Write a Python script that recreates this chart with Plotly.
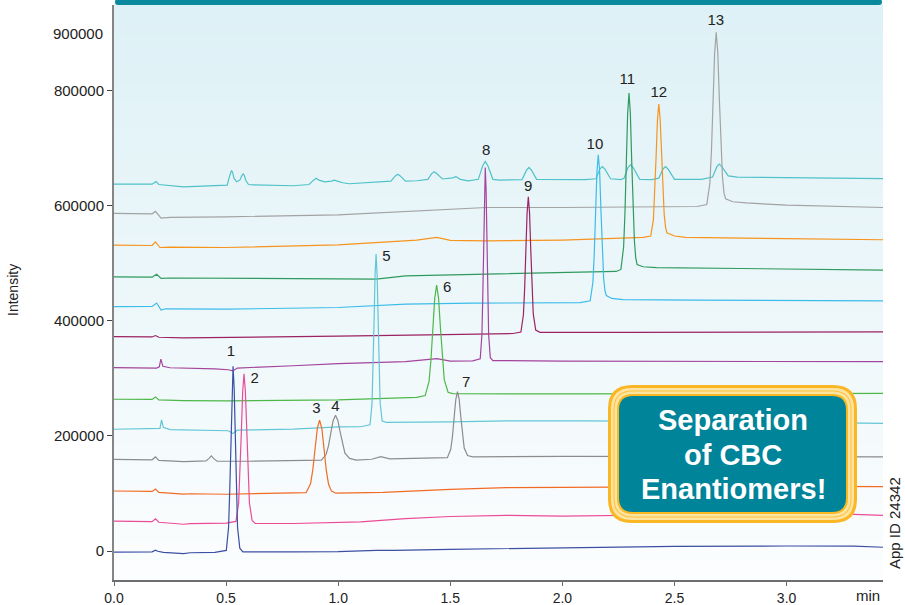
import plotly.graph_objects as go

# Chromatograms (time in min, intensity), one list per trace, bottom trace first
T1 = [0.0, 0.17, 0.185, 0.195, 0.22, 0.31, 0.34, 0.45, 0.501, 0.511, 0.516, 0.521, 0.526, 0.531,
      0.536, 0.541, 0.546, 0.551, 0.561, 0.575, 0.8, 1.0, 1.17, 1.25, 1.5, 2.0, 2.5, 3.0, 3.3, 3.43]
I1 = [-2000, -1500, 1500, -500, -2500, -4500, -3000, -2500, 1100, 41200, 102600, 193900, 282800, 321000,
      282800, 193900, 102600, 41200, 5000, -1500, -1500, -1200, 1200, 1000, 3000, 5700, 8000, 8700, 8500, 6500]

T2 = [0.0, 0.17, 0.185, 0.2, 0.31, 0.34, 0.5, 0.544, 0.556, 0.562, 0.568, 0.574, 0.58, 0.586,
      0.592, 0.598, 0.604, 0.616, 0.63, 0.8, 1.0, 1.1, 1.3, 1.5, 1.75, 2.0, 2.5, 3.0, 3.3, 3.43]
I2 = [52000, 51000, 56000, 50000, 46500, 47500, 48500, 51500, 83700, 132900, 206000, 277200, 307800, 277200,
      206000, 132900, 83700, 53000, 48000, 47800, 49500, 50500, 56200, 60000, 62000, 60500, 63000, 64500, 63500, 62000]

T3 = [0.0, 0.17, 0.185, 0.2, 0.31, 0.34, 0.5, 0.7, 0.8, 0.857, 0.877, 0.887, 0.897, 0.907, 0.917,
      0.927, 0.937, 0.947, 0.957, 0.97, 0.99, 1.2, 1.5, 1.75, 2.0, 2.5, 3.0, 3.43]
I3 = [104300, 103500, 107800, 102000, 99000, 99500, 98600, 99500, 100000, 101400, 117400, 141800, 178100, 213500, 227300,
      213000, 177000, 140000, 116000, 104000, 100500, 102000, 107000, 110000, 110500, 111500, 112500, 112000]

T4 = [0.0, 0.17, 0.185, 0.2, 0.31, 0.41, 0.424, 0.434, 0.444, 0.46, 0.6, 0.88, 0.925, 0.946, 0.9565, 0.967,
      0.9775, 0.988, 0.9985, 1.009, 1.0195, 1.03, 1.051, 1.08, 1.15, 1.19, 1.23, 1.35, 1.45, 1.487, 1.502,
      1.5095, 1.517, 1.5245, 1.532, 1.5395, 1.547, 1.5545, 1.562, 1.577, 1.6, 2.0, 2.5, 3.0, 3.43]
I4 = [159400, 158500, 163500, 157500, 155500, 156500, 161000, 165200, 161000, 156000, 156000, 157000, 158000, 167700, 182700, 205000,
      226700, 236000, 227000, 206000, 185000, 170000, 161000, 158000, 159500, 164000, 160000, 160500, 161000, 162300, 176700,
      198700, 231400, 263300, 277000, 264000, 233000, 201000, 179000, 166000, 163500, 164500, 164500, 164000, 163500]

T5 = [0.0, 0.19, 0.205, 0.212, 0.22, 0.25, 0.4, 0.51, 0.53, 0.55, 0.8, 1.0, 1.1, 1.142, 1.151, 1.1555, 1.16,
      1.1645, 1.169, 1.1735, 1.178, 1.1825, 1.187, 1.196, 1.215, 1.5, 1.75, 2.1, 2.6, 3.0, 3.43]
I5 = [211600, 212000, 213000, 227800, 215000, 211000, 210500, 209000, 204000, 210000, 212000, 215600, 216000, 219300, 256500, 313500, 398100,
      480600, 516000, 480600, 398100, 313500, 258000, 226000, 223500, 224500, 226000, 226000, 225000, 224000, 222000]

T6 = [0.0, 0.17, 0.185, 0.2, 0.31, 0.5, 1.0, 1.3, 1.35, 1.388, 1.405, 1.4135, 1.422, 1.4305, 1.439,
      1.4475, 1.456, 1.4645, 1.473, 1.49, 1.51, 2.0, 2.5, 3.0, 3.43]
I6 = [263800, 263500, 267800, 262500, 261500, 260900, 262600, 266000, 267000, 270100, 294200, 331000, 385800, 439100, 462000,
      440000, 388000, 334000, 298000, 276000, 273500, 273000, 272600, 273500, 274000]

T7 = [0.0, 0.19, 0.202, 0.209, 0.218, 0.25, 0.45, 0.51, 0.53, 0.55, 0.8, 1.0, 1.3, 1.44, 1.5, 1.6, 1.6335,
      1.641, 1.6447, 1.6485, 1.6522, 1.656, 1.6597, 1.6635, 1.6672, 1.671, 1.6785, 1.69, 2.0, 2.5, 3.0, 3.43]
I7 = [318800, 318000, 320000, 333400, 321000, 318500, 316500, 315000, 313000, 318000, 322000, 325700, 329000, 334500, 330000, 330500, 334100,
      375800, 439700, 534500, 627000, 666600, 627000, 534500, 439700, 375800, 336000, 331000, 330000, 329500, 329500, 329000]

T8 = [0.0, 0.17, 0.185, 0.2, 0.31, 0.5, 1.0, 1.4, 1.66, 1.78, 1.815, 1.826, 1.8315, 1.837, 1.8425, 1.848,
      1.8535, 1.859, 1.8645, 1.87, 1.881, 1.9, 2.3, 2.8, 3.43]
I8 = [372600, 372000, 374500, 371500, 370500, 371000, 373500, 375500, 378000, 378000, 380600, 410100, 455200, 522200, 587600, 615600,
      588000, 523000, 457000, 412000, 384000, 380000, 380000, 380500, 381000]

T9 = [0.0, 0.17, 0.19, 0.21, 0.23, 0.5, 1.0, 1.3, 1.6, 2.08, 2.124, 2.136, 2.142, 2.148, 2.154, 2.16, 2.166,
      2.172, 2.178, 2.184, 2.19, 2.196, 2.22, 2.27, 2.6, 3.0, 3.43]
I9 = [424900, 425000, 431000, 418600, 421000, 420300, 423200, 429000, 430700, 431800, 434800, 466700, 515400, 587800, 658400, 688700, 661000,
      592000, 522000, 474000, 452000, 444000, 439000, 437000, 436000, 435500, 434800]

T10 = [0.0, 0.17, 0.19, 0.21, 0.25, 0.8, 1.17, 1.3, 1.6, 2.0, 2.24, 2.261, 2.273, 2.279, 2.285, 2.291, 2.297,
       2.303, 2.309, 2.315, 2.321, 2.327, 2.333, 2.36, 2.42, 2.8, 3.2, 3.43]
I10 = [476500, 476000, 481000, 473900, 474500, 473500, 472600, 478300, 481000, 484800, 485900, 489400, 527900, 586800, 674200, 759400, 796000,
       762000, 680000, 596000, 540000, 510000, 498000, 494000, 492500, 491000, 489500, 488300]

T11 = [0.0, 0.17, 0.185, 0.205, 0.25, 0.5, 1.0, 1.2, 1.35, 1.44, 1.5, 1.66, 2.0, 2.36, 2.394, 2.406, 2.412,
       2.418, 2.424, 2.43, 2.436, 2.442, 2.448, 2.454, 2.46, 2.466, 2.5, 2.55, 3.0, 3.43]
I11 = [531700, 531000, 537400, 527500, 528000, 527500, 532000, 536200, 540400, 545000, 540000, 539100, 540500, 545000, 547500, 576300, 620300,
       685700, 749400, 776800, 751000, 690000, 627000, 585000, 563000, 553000, 547500, 545000, 543000, 541000]

T12 = [0.0, 0.17, 0.185, 0.21, 0.25, 0.5, 1.0, 1.3, 1.5, 1.66, 2.0, 2.6, 2.644, 2.658, 2.665, 2.672, 2.679,
       2.686, 2.693, 2.7, 2.707, 2.714, 2.721, 2.728, 2.76, 2.82, 3.0, 3.43]
I12 = [586700, 586000, 590200, 578700, 580000, 580900, 584300, 589600, 594300, 597000, 597000, 598800, 602300, 639800, 697300, 782600, 865700,
       901400, 867000, 786000, 705000, 650000, 622000, 612000, 607000, 605000, 601000, 597000]

T13 = [0.0, 0.17, 0.187, 0.2, 0.31, 0.45, 0.5, 0.505, 0.513, 0.519, 0.524, 0.529, 0.535, 0.547, 0.562, 0.571, 0.576,
       0.581, 0.588, 0.6, 0.62, 0.8, 0.87, 0.89, 0.902, 0.914, 0.94, 0.97, 0.983, 0.996, 1.02, 1.05, 1.2, 1.235,
       1.255, 1.266, 1.277, 1.3, 1.35, 1.4, 1.417, 1.428, 1.439, 1.465, 1.51, 1.525, 1.545, 1.58, 1.625, 1.645,
       1.656, 1.667, 1.69, 1.72, 1.82, 1.84, 1.851, 1.862, 1.885, 2.1, 2.15, 2.167, 2.178, 2.189, 2.215, 2.26,
       2.275, 2.293, 2.304, 2.315, 2.345, 2.4, 2.43, 2.449, 2.46, 2.471, 2.5, 2.62, 2.67, 2.689, 2.7, 2.711,
       2.74, 2.78, 3.1, 3.43]
I13 = [637700, 637500, 642300, 637000, 633000, 634500, 635000, 636000, 648000, 658000, 661300, 658000, 648000, 641700, 645000, 653000, 655400,
       653000, 644000, 637000, 636500, 634800, 637000, 644500, 647800, 644500, 641700, 643000, 644600, 643000, 640000, 638300, 641700, 643000,
       652000, 654800, 652000, 643000, 643500, 646000, 656000, 659000, 656000, 646600, 648500, 650800, 646000, 643500, 646000, 670000,
       677000, 670000, 646000, 644600, 645500, 662000, 666600, 662000, 646000, 645500, 647000, 664000, 668300, 664000, 647000, 645500,
       648000, 667000, 671300, 667000, 646000, 645500, 648000, 664000, 668300, 664000, 646000, 646000, 650000, 668000, 672500, 668000,
       652000, 650000, 648500, 647300]

TRACE_COLORS = ["#3b4fa4", "#ec4b97", "#f26b24", "#8c8c8c", "#62c6d6", "#4db848", "#a4449c",
                "#9c2263", "#3bbce9", "#2f9a5d", "#f7941e", "#a3a3a3", "#4ec2c8"]

# Peak labels
PEAK_NAMES = ["1", "2", "3", "4", "5", "6", "7", "8", "9", "10", "11", "12", "13"]
PEAK_X = [0.521, 0.627, 0.903, 0.988, 1.215, 1.486, 1.571, 1.66, 1.847, 2.145, 2.29, 2.43, 2.684]
PEAK_Y = [346000, 299000, 247000, 250500, 511000, 457000, 292000, 695500, 633000, 706000, 817500, 795000, 921500]

X_TICKS = [0.0, 0.5, 1.0, 1.5, 2.0, 2.5, 3.0]
X_LABELS = ["0.0", "0.5", "1.0", "1.5", "2.0", "2.5", "3.0"]
Y_TICKS = [0, 200000, 400000, 600000, 800000]
Y_LABELS = ["0", "200000", "400000", "600000", "800000"]

FONT = "Liberation Sans, Arial, sans-serif"

# plot area in pixels
L, R, TOP, BOT = 114, 883, 5, 580


def px(x):
    return (x - L) / (R - L)


def py(y):
    return (BOT - y) / (BOT - TOP)


def rounded_rect(x0, y0, x1, y1, r):
    """SVG path (paper coords) of a rounded rectangle given in pixels."""
    ax, bx = px(x0), px(x1)
    ay, by = py(y1), py(y0)  # ay bottom, by top
    rx = r / (R - L)
    ry = r / (BOT - TOP)
    return (f"M {ax + rx},{by} L {bx - rx},{by} Q {bx},{by} {bx},{by - ry} "
            f"L {bx},{ay + ry} Q {bx},{ay} {bx - rx},{ay} "
            f"L {ax + rx},{ay} Q {ax},{ay} {ax},{ay + ry} "
            f"L {ax},{by - ry} Q {ax},{by} {ax + rx},{by} Z")


fig = go.Figure()

series = [(T1, I1), (T2, I2), (T3, I3), (T4, I4), (T5, I5), (T6, I6), (T7, I7),
          (T8, I8), (T9, I9), (T10, I10), (T11, I11), (T12, I12), (T13, I13)]

# draw top trace first so lower traces sit on top
for (t, inten), color in reversed(list(zip(series, TRACE_COLORS))):
    fig.add_trace(go.Scatter(
        x=t, y=inten, mode="lines",
        line=dict(color=color, width=1.2),
        hoverinfo="skip", showlegend=False,
    ))

fig.add_trace(go.Scatter(
    x=PEAK_X, y=PEAK_Y, mode="text", text=PEAK_NAMES,
    textfont=dict(family=FONT, size=15, color="#222222"),
    hoverinfo="skip", showlegend=False, cliponaxis=False,
))

shapes = []

# vertical gradient background inside plot area
top_rgb = (222, 241, 246)
bot_rgb = (251, 253, 254)
n = 60
for i in range(n):
    f = i / (n - 1)
    c = tuple(round(b + (t - b) * f) for t, b in zip(top_rgb, bot_rgb))
    shapes.append(dict(type="rect", xref="paper", yref="paper",
                       x0=0, x1=1, y0=i / n, y1=(i + 1) / n + 0.002,
                       fillcolor=f"rgb{c}", line=dict(width=0), layer="below"))

# teal band on top of plot
shapes.append(dict(type="path", xref="paper", yref="paper",
                   path=rounded_rect(115, -1, 882, 5, 3),
                   fillcolor="#0a889e", line=dict(width=0)))

# callout box
for inset, color, rad in [(0, "#fbb624", 24), (3, "#fee4a2", 21), (5.5, "#fbc23a", 19),
                          (6.5, "#fee4a2", 18), (9, "#f9b820", 16), (11, "#00849a", 14)]:
    shapes.append(dict(type="path", xref="paper", yref="paper",
                       path=rounded_rect(608 + inset, 385 + inset, 857 - inset, 523 - inset, rad),
                       fillcolor=color, line=dict(width=0), layer="above"))

annotations = []
for txt, yy in [("Separation", 420), ("of CBC", 455), ("Enantiomers!", 489)]:
    annotations.append(dict(x=px(733), y=py(yy), xref="paper", yref="paper",
                            text=f"<b>{txt}</b>", showarrow=False,
                            font=dict(family=FONT, size=29, color="white"),
                            xanchor="center", yanchor="middle"))

annotations += [
    dict(x=px(105), y=900000, xref="paper", yref="y", text="900000", showarrow=False,
         xanchor="right", yanchor="middle", font=dict(family=FONT, size=15, color="#222222")),
    dict(x=px(868), y=py(595), xref="paper", yref="paper", text="min", showarrow=False,
         xanchor="center", yanchor="middle", font=dict(family=FONT, size=15, color="#222222")),
    dict(x=px(13), y=py(290), xref="paper", yref="paper", text="Intensity", showarrow=False,
         textangle=-90, xanchor="center", yanchor="middle",
         font=dict(family=FONT, size=14, color="#222222")),
    dict(x=px(894), y=py(523), xref="paper", yref="paper", text="App ID 24342", showarrow=False,
         textangle=-90, xanchor="center", yanchor="middle",
         font=dict(family=FONT, size=15, color="#222222")),
]

fig.update_layout(
    width=905, height=605,
    margin=dict(l=L, r=905 - R, t=TOP, b=605 - BOT, autoexpand=False),
    paper_bgcolor="white",
    plot_bgcolor="rgba(0,0,0,0)",
    font=dict(family=FONT, size=15, color="#222222"),
    shapes=shapes,
    annotations=annotations,
    xaxis=dict(
        range=[0, 3.43], tickvals=X_TICKS, ticktext=X_LABELS,
        showgrid=False, zeroline=False, automargin=False,
        showline=True, linecolor="#6e6e6e", linewidth=1.5,
        ticks="outside", ticklen=4, tickcolor="#6e6e6e",
        tickfont=dict(family=FONT, size=14, color="#222222"),
    ),
    yaxis=dict(
        range=[-50400, 949000], tickvals=Y_TICKS, ticktext=Y_LABELS,
        showgrid=False, zeroline=False, automargin=False,
        showline=True, linecolor="#858585", linewidth=2,
        ticks="outside", ticklen=5, tickcolor="#444444",
        tickfont=dict(family=FONT, size=15, color="#222222"),
    ),
)

# the page's default body margin would shift the 905x605 figure
fig.write_html("out.html", config={"displayModeBar": False},
               post_script="document.body.style.margin='0';")
